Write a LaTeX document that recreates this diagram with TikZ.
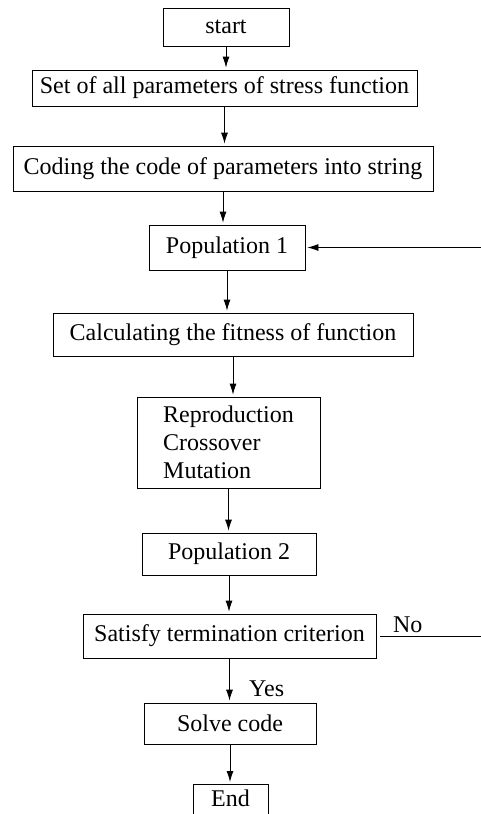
\documentclass[tikz,border=0pt]{standalone}
\usepackage{fontspec}
\setmainfont{Liberation Serif}
\usepackage{tikz}
\usetikzlibrary{arrows.meta}

\tikzset{
  box/.style={draw,line width=0.8pt,inner sep=0pt,font=\fontsize{24}{28}\selectfont},
  flow/.style={line width=0.8pt,-{Latex[length=11pt,width=7pt]},shorten >=2pt},
  tag/.style={font=\fontsize{24}{28}\selectfont}
}

\begin{document}
\begin{tikzpicture}[x=1pt,y=1pt]
\useasboundingbox (0,0) rectangle (481,-814);
% Boxes of the chart
\node[box,minimum width=126,minimum height=38] (start) at (226,-27) {start};
\node[box,minimum width=385,minimum height=36] (set) at (224.5,-88) {Set of all parameters of stress function};
\node[box,minimum width=420,minimum height=45] (code) at (223,-168.5) {Coding the code of parameters into string};
\node[box,minimum width=156,minimum height=45] (pop1) at (227,-247.5) {Population 1};
\node[box,minimum width=360,minimum height=43] (calc) at (233,-334.5) {Calculating the fitness of function};
\node[box,minimum width=183,minimum height=91,align=left] (gen) at (228.5,-442.5) {Reproduction\\Crossover\\Mutation};
\node[box,minimum width=174,minimum height=42] (pop2) at (229,-554) {Population 2};
\node[box,minimum width=293,minimum height=44] (check) at (229.5,-636) {Satisfy termination criterion};
\node[box,minimum width=172,minimum height=41] (solve) at (230,-723.5) {Solve code};
% last box runs off the bottom edge
\node[box,minimum width=75,anchor=north,inner ysep=6pt,text height=16pt,text depth=14pt] (stop) at (230.5,-784) {End};

% Free ends on the right
\coordinate (back) at (481,-247.5);
\coordinate (noend) at (481,-636);

% Arrows down the chart
\draw[flow] (start.south) -- (start.south |- set.north);
\draw[flow] (set.south) -- (set.south |- code.north);
\draw[flow] (code.south) -- (code.south |- pop1.north);
\draw[flow] (pop1.south) -- (pop1.south |- calc.north);
\draw[flow] (calc.south) -- (calc.south |- gen.north);
\draw[flow] (gen.south) -- (gen.south |- pop2.north);
\draw[flow] (pop2.south) -- (pop2.south |- check.north);
\draw[flow] (check.south) -- (check.south |- solve.north)
  node[pos=0.69,right=16pt,tag]{Yes};
\draw[flow] (solve.south) -- (solve.south |- stop.north);

% Loop back to population 1
\draw[flow] (back) -- (pop1.east);
\draw[line width=0.8pt,shorten <=4pt] (check.east) -- (noend)
  node[pos=0.3,above,tag]{No};
\end{tikzpicture}
\end{document}
